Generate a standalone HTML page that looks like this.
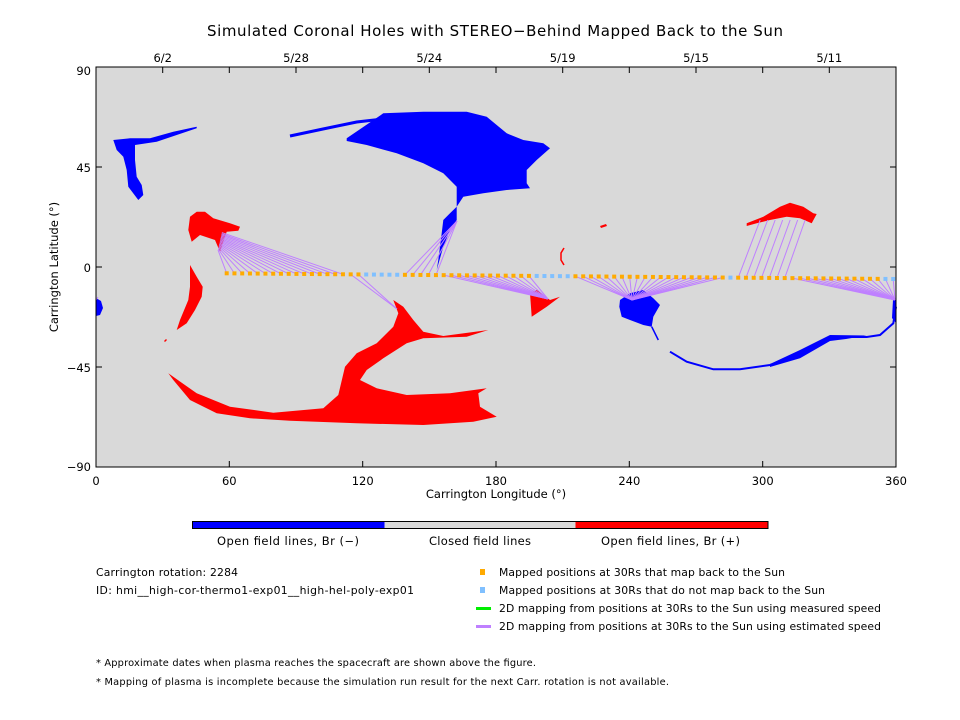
<!DOCTYPE html>
<html><head><meta charset="utf-8"><style>
body{margin:0;background:#fff}
svg{display:block}
text{font-family:"DejaVu Sans","Liberation Sans",sans-serif;fill:#000}
</style></head><body>
<svg id="s" width="960" height="720" viewBox="0 0 960 720" xmlns="http://www.w3.org/2000/svg">
<rect width="960" height="720" fill="#fff"/>
<text x="207" y="36" font-size="15" textLength="576" lengthAdjust="spacing">Simulated Coronal Holes with STEREO−Behind Mapped Back to the Sun</text>
<rect x="96" y="67" width="800" height="400" fill="#d9d9d9"/>
<g fill="#0000ff">
<polygon points="346.7,138.3 383.3,113.3 423.3,111.7 466.7,111.7 486.7,116.7 506.7,133.3 523.3,140 543.3,143.3 550,148.3 536.7,160 526.7,170 526.7,183.3 530,188.3 506.7,190 483.3,193.3 463.3,196.7 456.7,206.7 450,213.3 443.3,220 441.7,233.3 438.3,260 436.7,270 443.3,246.7 450,230 456.7,220 456.7,186.7 443.3,173.3 423.3,163.3 396.7,153.3 366.7,145 346.7,141"/>
<polyline points="290,136 323,129 356.7,122 400,117 423,116 440,119" fill="none" stroke="#0000ff" stroke-width="3"/>
<polygon points="113.3,140 116.7,150 123.3,156.7 126.7,170 128.3,186.7 138.3,200 143.3,195 141.7,185 136.7,176.7 135,160 135,145 156.7,141.7 176.7,135 196.7,128.3 196.7,126.7 173.3,131.7 150,138.3 130,138.3"/>
<polygon points="96,298 101,301 103,308 100,315 96,316"/>
<polygon points="620,300 630,293.3 643.3,290 653.3,298.3 660,305 653.3,316.7 651.7,326.7 643.3,325 630,320 621.7,316.7 619.3,306.7"/>
<polyline points="651.7,326.7 658.3,340" fill="none" stroke="#0000ff" stroke-width="1.5"/>
<polyline points="670,351.7 686.7,361.7 713.3,369.3 740,369.3 770,365 796.7,356 813.3,347 830,338 846.7,337 866.7,337 880,335 893.3,323.3 896,306.7" fill="none" stroke="#0000ff" stroke-width="2"/>
<polygon points="770,364 800,350 830,335 866.7,335.5 846,339 830,341 800,358.3 770,367"/>
<polygon points="893,300 896,298 896,323 892,318"/>
</g>
<g fill="#ff0000">
<polygon points="190,216.7 196.7,211.7 205,211.7 213.3,218.3 230,223.3 240,226.7 238.3,230.7 226.7,231.7 223.3,241.7 220,251.7 215,240 200,235 191.7,241.7 188.3,230"/>
<polygon points="190,265 196.7,276.7 202.7,286.7 201.7,296.7 195,310 186.7,323.3 176.7,330 180,320 188.3,300 190,286.7"/>
<polygon points="168.3,373.3 196.7,393.3 230,406.7 273.3,412.7 323.3,408.3 338.3,395 345,366.7 356.7,353.3 376.7,343.3 393.3,326.7 398.3,313.3 393.3,300 403.3,306.7 413.3,320 423.3,331.7 443.3,336 488.3,330 466.7,336.7 423.3,338.3 406.7,343.3 383.3,358.3 366.7,370 360,380 376.7,388.3 406.7,395 450,393.3 486.7,388.3 478.3,393.3 480,406.7 496.7,416.7 473.3,421.7 423.3,425 356.7,423.3 290,420.7 250,418.3 216.7,413.3 190,400 173.3,380"/>
<polygon points="530,293.3 536.7,290 550,300 560,296.7 546.7,306.7 531.7,316.7"/>
<polygon points="746.7,223.3 763.3,216.7 780,206.7 790,202.7 803.3,206.7 813.3,213.3 816.7,214 811.7,223.3 800,218.3 786.7,216.7 770,220 756.7,223.3 746.7,226"/>
<polygon points="600,226 606,224 607,226 601,228"/>
<polygon points="164,341 166,339 167,340 165,342"/>
</g>
<polyline points="564,248 561,253 561,260 564,265" fill="none" stroke="#f00" stroke-width="1.5"/>
<g stroke="#bf80ff" stroke-width="1" fill="none">
<line x1="226.7" y1="273.3" x2="218" y2="250"/>
<line x1="234.45" y1="273.37" x2="218.26" y2="248.84"/>
<line x1="242.2" y1="273.43" x2="218.52" y2="247.68"/>
<line x1="249.95" y1="273.5" x2="218.78" y2="246.51"/>
<line x1="257.7" y1="273.57" x2="219.03" y2="245.35"/>
<line x1="265.45" y1="273.63" x2="219.29" y2="244.19"/>
<line x1="273.2" y1="273.7" x2="219.55" y2="243.03"/>
<line x1="280.95" y1="273.76" x2="219.81" y2="241.86"/>
<line x1="288.7" y1="273.83" x2="220.07" y2="240.7"/>
<line x1="296.45" y1="273.9" x2="220.33" y2="239.54"/>
<line x1="304.2" y1="273.96" x2="220.58" y2="238.38"/>
<line x1="311.95" y1="274.03" x2="220.84" y2="237.21"/>
<line x1="319.7" y1="274.1" x2="221.1" y2="236.05"/>
<line x1="327.45" y1="274.16" x2="221.36" y2="234.89"/>
<line x1="335.2" y1="274.23" x2="221.62" y2="233.73"/>
<line x1="342.95" y1="274.29" x2="221.88" y2="232.56"/>
<line x1="350.7" y1="274.36" x2="397" y2="309"/>
<line x1="358.45" y1="274.43" x2="397" y2="309"/>
<line x1="404.95" y1="274.82" x2="457" y2="221"/>
<line x1="412.7" y1="274.89" x2="457" y2="221"/>
<line x1="420.45" y1="274.96" x2="457" y2="221"/>
<line x1="428.2" y1="275.02" x2="457" y2="221"/>
<line x1="435.95" y1="275.09" x2="457" y2="221"/>
<line x1="443.7" y1="275.16" x2="548" y2="299"/>
<line x1="451.45" y1="275.22" x2="548" y2="299"/>
<line x1="459.2" y1="275.29" x2="548" y2="299"/>
<line x1="466.95" y1="275.35" x2="548" y2="299"/>
<line x1="474.7" y1="275.42" x2="548" y2="299"/>
<line x1="482.45" y1="275.49" x2="548" y2="299"/>
<line x1="490.2" y1="275.55" x2="548" y2="299"/>
<line x1="497.95" y1="275.62" x2="548" y2="299"/>
<line x1="505.7" y1="275.68" x2="548" y2="299"/>
<line x1="513.45" y1="275.75" x2="548" y2="299"/>
<line x1="521.2" y1="275.82" x2="548" y2="299"/>
<line x1="528.95" y1="275.88" x2="548" y2="299"/>
<line x1="575.45" y1="276.28" x2="632" y2="300"/>
<line x1="583.2" y1="276.35" x2="632" y2="300"/>
<line x1="590.95" y1="276.41" x2="632" y2="300"/>
<line x1="598.7" y1="276.48" x2="632" y2="300"/>
<line x1="606.45" y1="276.55" x2="632" y2="300"/>
<line x1="614.2" y1="276.61" x2="632" y2="300"/>
<line x1="621.95" y1="276.68" x2="632" y2="300"/>
<line x1="629.7" y1="276.74" x2="632" y2="300"/>
<line x1="637.45" y1="276.81" x2="632" y2="300"/>
<line x1="645.2" y1="276.88" x2="632" y2="300"/>
<line x1="652.95" y1="276.94" x2="632" y2="300"/>
<line x1="660.7" y1="277.01" x2="632" y2="300"/>
<line x1="668.45" y1="277.07" x2="632" y2="300"/>
<line x1="676.2" y1="277.14" x2="632" y2="300"/>
<line x1="683.95" y1="277.21" x2="632" y2="300"/>
<line x1="691.7" y1="277.27" x2="632" y2="300"/>
<line x1="699.45" y1="277.34" x2="632" y2="300"/>
<line x1="707.2" y1="277.4" x2="632" y2="300"/>
<line x1="714.95" y1="277.47" x2="632" y2="300"/>
<line x1="722.7" y1="277.54" x2="632" y2="300"/>
<line x1="738.2" y1="277.67" x2="760.19" y2="220"/>
<line x1="745.95" y1="277.73" x2="767.68" y2="220"/>
<line x1="753.7" y1="277.8" x2="775.18" y2="220"/>
<line x1="761.45" y1="277.87" x2="782.67" y2="220"/>
<line x1="769.2" y1="277.93" x2="790.16" y2="220"/>
<line x1="776.95" y1="278" x2="797.65" y2="220"/>
<line x1="784.7" y1="278.07" x2="805.14" y2="220"/>
<line x1="792.45" y1="278.13" x2="895" y2="300"/>
<line x1="800.2" y1="278.2" x2="895" y2="300"/>
<line x1="807.95" y1="278.26" x2="895" y2="300"/>
<line x1="815.7" y1="278.33" x2="895" y2="300"/>
<line x1="823.45" y1="278.4" x2="895" y2="300"/>
<line x1="831.2" y1="278.46" x2="895" y2="300"/>
<line x1="838.95" y1="278.53" x2="895" y2="300"/>
<line x1="846.7" y1="278.59" x2="895" y2="300"/>
<line x1="854.45" y1="278.66" x2="895" y2="300"/>
<line x1="862.2" y1="278.73" x2="895" y2="300"/>
<line x1="869.95" y1="278.79" x2="895" y2="300"/>
<line x1="877.7" y1="278.86" x2="895" y2="300"/>
<line x1="885.45" y1="278.92" x2="895" y2="300"/>
<line x1="893.2" y1="278.99" x2="895" y2="300"/>
<line x1="96" y1="300" x2="98" y2="297"/>
</g>
<g fill="#ffaa00">
<rect x="224.7" y="271.3" width="4" height="4"/><rect x="232.45" y="271.37" width="4" height="4"/><rect x="240.2" y="271.43" width="4" height="4"/><rect x="247.95" y="271.5" width="4" height="4"/><rect x="255.7" y="271.57" width="4" height="4"/><rect x="263.45" y="271.63" width="4" height="4"/><rect x="271.2" y="271.7" width="4" height="4"/><rect x="278.95" y="271.76" width="4" height="4"/><rect x="286.7" y="271.83" width="4" height="4"/><rect x="294.45" y="271.9" width="4" height="4"/><rect x="302.2" y="271.96" width="4" height="4"/><rect x="309.95" y="272.03" width="4" height="4"/><rect x="317.7" y="272.1" width="4" height="4"/><rect x="325.45" y="272.16" width="4" height="4"/><rect x="333.2" y="272.23" width="4" height="4"/><rect x="340.95" y="272.29" width="4" height="4"/><rect x="348.7" y="272.36" width="4" height="4"/><rect x="356.45" y="272.43" width="4" height="4"/>
<rect x="402.95" y="272.82" width="4" height="4"/><rect x="410.7" y="272.89" width="4" height="4"/><rect x="418.45" y="272.96" width="4" height="4"/><rect x="426.2" y="273.02" width="4" height="4"/><rect x="433.95" y="273.09" width="4" height="4"/><rect x="441.7" y="273.16" width="4" height="4"/><rect x="449.45" y="273.22" width="4" height="4"/><rect x="457.2" y="273.29" width="4" height="4"/><rect x="464.95" y="273.35" width="4" height="4"/><rect x="472.7" y="273.42" width="4" height="4"/><rect x="480.45" y="273.49" width="4" height="4"/><rect x="488.2" y="273.55" width="4" height="4"/><rect x="495.95" y="273.62" width="4" height="4"/><rect x="503.7" y="273.68" width="4" height="4"/><rect x="511.45" y="273.75" width="4" height="4"/><rect x="519.2" y="273.82" width="4" height="4"/><rect x="526.95" y="273.88" width="4" height="4"/>
<rect x="573.45" y="274.28" width="4" height="4"/><rect x="581.2" y="274.35" width="4" height="4"/><rect x="588.95" y="274.41" width="4" height="4"/><rect x="596.7" y="274.48" width="4" height="4"/><rect x="604.45" y="274.55" width="4" height="4"/><rect x="612.2" y="274.61" width="4" height="4"/><rect x="619.95" y="274.68" width="4" height="4"/><rect x="627.7" y="274.74" width="4" height="4"/><rect x="635.45" y="274.81" width="4" height="4"/><rect x="643.2" y="274.88" width="4" height="4"/><rect x="650.95" y="274.94" width="4" height="4"/><rect x="658.7" y="275.01" width="4" height="4"/><rect x="666.45" y="275.07" width="4" height="4"/><rect x="674.2" y="275.14" width="4" height="4"/><rect x="681.95" y="275.21" width="4" height="4"/><rect x="689.7" y="275.27" width="4" height="4"/><rect x="697.45" y="275.34" width="4" height="4"/><rect x="705.2" y="275.4" width="4" height="4"/><rect x="712.95" y="275.47" width="4" height="4"/><rect x="720.7" y="275.54" width="4" height="4"/>
<rect x="736.2" y="275.67" width="4" height="4"/><rect x="743.95" y="275.73" width="4" height="4"/><rect x="751.7" y="275.8" width="4" height="4"/><rect x="759.45" y="275.87" width="4" height="4"/><rect x="767.2" y="275.93" width="4" height="4"/><rect x="774.95" y="276" width="4" height="4"/><rect x="782.7" y="276.07" width="4" height="4"/><rect x="790.45" y="276.13" width="4" height="4"/><rect x="798.2" y="276.2" width="4" height="4"/><rect x="805.95" y="276.26" width="4" height="4"/><rect x="813.7" y="276.33" width="4" height="4"/><rect x="821.45" y="276.4" width="4" height="4"/><rect x="829.2" y="276.46" width="4" height="4"/><rect x="836.95" y="276.53" width="4" height="4"/><rect x="844.7" y="276.59" width="4" height="4"/><rect x="852.45" y="276.66" width="4" height="4"/><rect x="860.2" y="276.73" width="4" height="4"/><rect x="867.95" y="276.79" width="4" height="4"/><rect x="875.7" y="276.86" width="4" height="4"/>
</g>
<g fill="#80c0ff">
<rect x="364.2" y="272.49" width="4" height="4"/><rect x="371.95" y="272.56" width="4" height="4"/><rect x="379.7" y="272.62" width="4" height="4"/><rect x="387.45" y="272.69" width="4" height="4"/><rect x="395.2" y="272.76" width="4" height="4"/>
<rect x="534.7" y="273.95" width="4" height="4"/><rect x="542.45" y="274.01" width="4" height="4"/><rect x="550.2" y="274.08" width="4" height="4"/><rect x="557.95" y="274.15" width="4" height="4"/><rect x="565.7" y="274.21" width="4" height="4"/>
<rect x="728.45" y="275.6" width="4" height="4"/>
<rect x="883.45" y="276.92" width="4" height="4"/><rect x="891.2" y="276.99" width="4" height="4"/>
</g>
<rect x="96" y="67" width="800" height="400" fill="none" stroke="#000" stroke-width="1"/>
<g stroke="#000" stroke-width="1">
<path d="M229.3,467v-6M362.7,467v-6M496,467v-6M629.3,467v-6M762.7,467v-6"/>
<path d="M96,167h6M96,267h6M96,367h6M896,167h-6M896,267h-6M896,367h-6"/>
<path d="M162.7,67v6M229.3,67v6M296,67v6M362.7,67v6M429.3,67v6M496,67v6M562.7,67v6M629.3,67v6M696,67v6M762.7,67v6M829.3,67v6"/>
</g>
<g font-size="11.5" text-anchor="middle">
<text x="96" y="485">0</text><text x="229.3" y="485">60</text><text x="362.7" y="485">120</text><text x="496" y="485">180</text><text x="629.3" y="485">240</text><text x="762.7" y="485">300</text><text x="896" y="485">360</text>
<text x="496" y="498">Carrington Longitude (°)</text>
<text x="162.7" y="62">6/2</text><text x="296" y="62">5/28</text><text x="429.3" y="62">5/24</text><text x="562.7" y="62">5/19</text><text x="696" y="62">5/15</text><text x="829.3" y="62">5/11</text>
</g>
<g font-size="11.5" text-anchor="end">
<text x="91" y="75">90</text><text x="91" y="172">45</text><text x="91" y="272">0</text><text x="91" y="372">−45</text><text x="91" y="471">−90</text>
</g>
<text transform="translate(58,267) rotate(-90)" font-size="11.5" text-anchor="middle">Carrington Latitude (°)</text>
<rect x="192.5" y="521.5" width="192" height="7" fill="#0000ff"/>
<rect x="384.5" y="521.5" width="191" height="7" fill="#d9d9d9"/>
<rect x="575.5" y="521.5" width="192.5" height="7" fill="#ff0000"/>
<rect x="192.5" y="521.5" width="575.5" height="7" fill="none" stroke="#000"/>
<g font-size="11.5">
<text x="217" y="545" textLength="142" lengthAdjust="spacing">Open field lines, Br (−)</text>
<text x="429" y="545" textLength="102" lengthAdjust="spacing">Closed field lines</text>
<text x="601" y="545" textLength="139" lengthAdjust="spacing">Open field lines, Br (+)</text>
</g>
<g font-size="10.8">
<text x="96" y="576" textLength="142" lengthAdjust="spacing">Carrington rotation: 2284</text>
<text x="96" y="594" textLength="318" lengthAdjust="spacing">ID: hmi__high-cor-thermo1-exp01__high-hel-poly-exp01</text>
<text x="499" y="576" textLength="286" lengthAdjust="spacing">Mapped positions at 30Rs that map back to the Sun</text>
<text x="499" y="594" textLength="326" lengthAdjust="spacing">Mapped positions at 30Rs that do not map back to the Sun</text>
<text x="499" y="612" textLength="382" lengthAdjust="spacing">2D mapping from positions at 30Rs to the Sun using measured speed</text>
<text x="499" y="630" textLength="382" lengthAdjust="spacing">2D mapping from positions at 30Rs to the Sun using estimated speed</text>
</g>
<rect x="480" y="569" width="5" height="6" fill="#ffaa00"/>
<rect x="480" y="587" width="5" height="6" fill="#80c0ff"/>
<rect x="476" y="607" width="15" height="3" fill="#00ee00"/>
<rect x="476" y="625" width="15" height="3" fill="#bf80ff"/>
<g font-size="9.8">
<text x="96" y="666" textLength="440" lengthAdjust="spacing">* Approximate dates when plasma reaches the spacecraft are shown above the figure.</text>
<text x="96" y="685" textLength="573" lengthAdjust="spacing">* Mapping of plasma is incomplete because the simulation run result for the next Carr. rotation is not available.</text>
</g>
</svg>
</body></html>
